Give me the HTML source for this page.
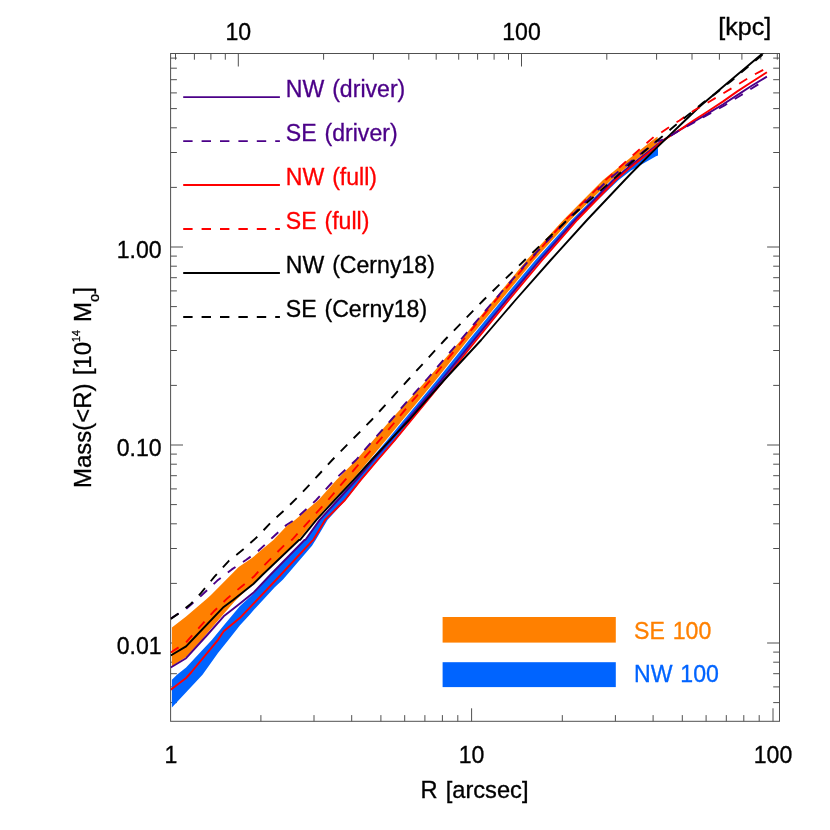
<!DOCTYPE html>
<html><head><meta charset="utf-8"><title>Mass profile</title>
<style>html,body{margin:0;padding:0;background:#fff;width:830px;height:830px;overflow:hidden}</style>
</head><body>
<svg width="830" height="830" viewBox="0 0 830 830" style="display:block;will-change:transform;font-family:'Liberation Sans',sans-serif;font-size:22px">
<rect width="830" height="830" fill="#fff"/>
<g stroke="#505050" stroke-width="1" fill="none">
<rect x="170.6" y="53.5" width="608.9" height="667.8"/>
<line x1="260.9" y1="721.3" x2="260.9" y2="715.0999999999999"/>
<line x1="314.0" y1="721.3" x2="314.0" y2="715.0999999999999"/>
<line x1="351.7" y1="721.3" x2="351.7" y2="715.0999999999999"/>
<line x1="380.9" y1="721.3" x2="380.9" y2="715.0999999999999"/>
<line x1="404.7" y1="721.3" x2="404.7" y2="715.0999999999999"/>
<line x1="424.9" y1="721.3" x2="424.9" y2="715.0999999999999"/>
<line x1="442.4" y1="721.3" x2="442.4" y2="715.0999999999999"/>
<line x1="457.8" y1="721.3" x2="457.8" y2="715.0999999999999"/>
<line x1="471.6" y1="721.3" x2="471.6" y2="708.3"/>
<line x1="562.3" y1="721.3" x2="562.3" y2="715.0999999999999"/>
<line x1="615.4" y1="721.3" x2="615.4" y2="715.0999999999999"/>
<line x1="653.1" y1="721.3" x2="653.1" y2="715.0999999999999"/>
<line x1="682.3" y1="721.3" x2="682.3" y2="715.0999999999999"/>
<line x1="706.1" y1="721.3" x2="706.1" y2="715.0999999999999"/>
<line x1="726.3" y1="721.3" x2="726.3" y2="715.0999999999999"/>
<line x1="743.8" y1="721.3" x2="743.8" y2="715.0999999999999"/>
<line x1="759.2" y1="721.3" x2="759.2" y2="715.0999999999999"/>
<line x1="773.0" y1="721.3" x2="773.0" y2="708.3"/>
<line x1="175.5" y1="53.5" x2="175.5" y2="59.7"/>
<line x1="194.4" y1="53.5" x2="194.4" y2="59.7"/>
<line x1="210.9" y1="53.5" x2="210.9" y2="59.7"/>
<line x1="225.3" y1="53.5" x2="225.3" y2="59.7"/>
<line x1="238.3" y1="53.5" x2="238.3" y2="66.5"/>
<line x1="323.6" y1="53.5" x2="323.6" y2="59.7"/>
<line x1="373.4" y1="53.5" x2="373.4" y2="59.7"/>
<line x1="408.8" y1="53.5" x2="408.8" y2="59.7"/>
<line x1="436.2" y1="53.5" x2="436.2" y2="59.7"/>
<line x1="458.7" y1="53.5" x2="458.7" y2="59.7"/>
<line x1="477.6" y1="53.5" x2="477.6" y2="59.7"/>
<line x1="494.1" y1="53.5" x2="494.1" y2="59.7"/>
<line x1="508.5" y1="53.5" x2="508.5" y2="59.7"/>
<line x1="521.5" y1="53.5" x2="521.5" y2="66.5"/>
<line x1="606.8" y1="53.5" x2="606.8" y2="59.7"/>
<line x1="656.6" y1="53.5" x2="656.6" y2="59.7"/>
<line x1="692.0" y1="53.5" x2="692.0" y2="59.7"/>
<line x1="719.4" y1="53.5" x2="719.4" y2="59.7"/>
<line x1="741.9" y1="53.5" x2="741.9" y2="59.7"/>
<line x1="760.8" y1="53.5" x2="760.8" y2="59.7"/>
<line x1="777.3" y1="53.5" x2="777.3" y2="59.7"/>
<line x1="170.6" y1="702.6" x2="176.9" y2="702.6"/>
<line x1="779.5" y1="702.6" x2="773.2" y2="702.6"/>
<line x1="170.6" y1="686.9" x2="176.9" y2="686.9"/>
<line x1="779.5" y1="686.9" x2="773.2" y2="686.9"/>
<line x1="170.6" y1="673.7" x2="176.9" y2="673.7"/>
<line x1="779.5" y1="673.7" x2="773.2" y2="673.7"/>
<line x1="170.6" y1="662.2" x2="176.9" y2="662.2"/>
<line x1="779.5" y1="662.2" x2="773.2" y2="662.2"/>
<line x1="170.6" y1="652.1" x2="176.9" y2="652.1"/>
<line x1="779.5" y1="652.1" x2="773.2" y2="652.1"/>
<line x1="170.6" y1="643.0" x2="183.0" y2="643.0"/>
<line x1="779.5" y1="643.0" x2="767.1" y2="643.0"/>
<line x1="170.6" y1="583.4" x2="176.9" y2="583.4"/>
<line x1="779.5" y1="583.4" x2="773.2" y2="583.4"/>
<line x1="170.6" y1="548.5" x2="176.9" y2="548.5"/>
<line x1="779.5" y1="548.5" x2="773.2" y2="548.5"/>
<line x1="170.6" y1="523.8" x2="176.9" y2="523.8"/>
<line x1="779.5" y1="523.8" x2="773.2" y2="523.8"/>
<line x1="170.6" y1="504.6" x2="176.9" y2="504.6"/>
<line x1="779.5" y1="504.6" x2="773.2" y2="504.6"/>
<line x1="170.6" y1="488.9" x2="176.9" y2="488.9"/>
<line x1="779.5" y1="488.9" x2="773.2" y2="488.9"/>
<line x1="170.6" y1="475.7" x2="176.9" y2="475.7"/>
<line x1="779.5" y1="475.7" x2="773.2" y2="475.7"/>
<line x1="170.6" y1="464.2" x2="176.9" y2="464.2"/>
<line x1="779.5" y1="464.2" x2="773.2" y2="464.2"/>
<line x1="170.6" y1="454.1" x2="176.9" y2="454.1"/>
<line x1="779.5" y1="454.1" x2="773.2" y2="454.1"/>
<line x1="170.6" y1="445.0" x2="183.0" y2="445.0"/>
<line x1="779.5" y1="445.0" x2="767.1" y2="445.0"/>
<line x1="170.6" y1="385.4" x2="176.9" y2="385.4"/>
<line x1="779.5" y1="385.4" x2="773.2" y2="385.4"/>
<line x1="170.6" y1="350.5" x2="176.9" y2="350.5"/>
<line x1="779.5" y1="350.5" x2="773.2" y2="350.5"/>
<line x1="170.6" y1="325.8" x2="176.9" y2="325.8"/>
<line x1="779.5" y1="325.8" x2="773.2" y2="325.8"/>
<line x1="170.6" y1="306.6" x2="176.9" y2="306.6"/>
<line x1="779.5" y1="306.6" x2="773.2" y2="306.6"/>
<line x1="170.6" y1="290.9" x2="176.9" y2="290.9"/>
<line x1="779.5" y1="290.9" x2="773.2" y2="290.9"/>
<line x1="170.6" y1="277.7" x2="176.9" y2="277.7"/>
<line x1="779.5" y1="277.7" x2="773.2" y2="277.7"/>
<line x1="170.6" y1="266.2" x2="176.9" y2="266.2"/>
<line x1="779.5" y1="266.2" x2="773.2" y2="266.2"/>
<line x1="170.6" y1="256.1" x2="176.9" y2="256.1"/>
<line x1="779.5" y1="256.1" x2="773.2" y2="256.1"/>
<line x1="170.6" y1="247.0" x2="183.0" y2="247.0"/>
<line x1="779.5" y1="247.0" x2="767.1" y2="247.0"/>
<line x1="170.6" y1="187.4" x2="176.9" y2="187.4"/>
<line x1="779.5" y1="187.4" x2="773.2" y2="187.4"/>
<line x1="170.6" y1="152.5" x2="176.9" y2="152.5"/>
<line x1="779.5" y1="152.5" x2="773.2" y2="152.5"/>
<line x1="170.6" y1="127.8" x2="176.9" y2="127.8"/>
<line x1="779.5" y1="127.8" x2="773.2" y2="127.8"/>
<line x1="170.6" y1="108.6" x2="176.9" y2="108.6"/>
<line x1="779.5" y1="108.6" x2="773.2" y2="108.6"/>
<line x1="170.6" y1="92.9" x2="176.9" y2="92.9"/>
<line x1="779.5" y1="92.9" x2="773.2" y2="92.9"/>
<line x1="170.6" y1="79.7" x2="176.9" y2="79.7"/>
<line x1="779.5" y1="79.7" x2="773.2" y2="79.7"/>
<line x1="170.6" y1="68.2" x2="176.9" y2="68.2"/>
<line x1="779.5" y1="68.2" x2="773.2" y2="68.2"/>
<line x1="170.6" y1="58.1" x2="176.9" y2="58.1"/>
<line x1="779.5" y1="58.1" x2="773.2" y2="58.1"/>
</g>
<defs><clipPath id="c"><rect x="170.6" y="53.5" width="608.9" height="667.8"/></clipPath></defs>
<g clip-path="url(#c)">
<polygon points="171.9,679.8 177.0,674.8 186.1,667.5 212.0,639.8 223.7,625.6 240.0,606.0 253.3,593.8 270.2,575.5 304.5,540.5 305.0,539.8 319.2,519.9 336.5,500.0 354.5,479.9 370.3,460.0 387.3,439.9 403.7,420.0 420.4,399.9 437.0,380.0 469.0,340.0 502.0,300.0 535.5,260.0 571.7,220.0 611.8,180.0 631.0,164.1 656.0,145.5 658.0,147.5 658.0,155.5 656.0,156.3 631.0,170.4 618.7,180.0 576.6,220.0 541.3,260.0 508.0,300.0 475.6,340.0 445.0,380.0 428.5,399.9 412.0,420.0 395.8,439.9 378.3,460.0 361.5,479.9 345.8,500.0 327.5,519.9 315.8,539.8 312.0,545.7 282.8,579.8 275.0,587.0 253.3,610.5 249.7,614.8 240.0,625.3 228.6,639.8 218.0,653.1 202.5,674.8 171.9,707.5" fill="#0064FF"/>
<polygon points="171.9,627.5 186.1,616.4 206.0,599.6 211.0,595.0 238.7,567.0 252.0,558.0 262.0,549.6 273.4,540.0 286.7,526.1 295.0,519.9 318.5,500.0 336.4,479.9 356.3,460.0 373.4,439.9 390.6,420.0 408.8,399.9 426.7,380.0 461.0,340.0 493.7,300.0 526.7,260.0 563.3,220.0 603.0,180.0 631.0,157.2 656.0,137.6 657.6,136.7 657.6,143.6 656.0,145.1 631.0,163.8 611.3,180.0 570.5,220.0 534.3,260.0 501.2,300.0 467.9,340.0 435.9,380.0 419.3,399.9 402.6,420.0 386.1,439.9 369.4,460.0 352.4,479.9 333.4,500.0 315.2,519.9 298.6,539.8 298.1,540.0 262.3,574.5 253.3,583.5 235.0,601.0 223.7,613.9 205.7,635.0 202.0,639.8 186.1,657.0 171.9,666.3" fill="#FF8000"/>
<polyline points="170.7,667.5 186.1,658.2 207.2,635.0 223.7,616.3 240.0,603.6 253.3,592.8 270.2,575.0 304.5,540.0 305.5,539.8 319.7,519.9 338.0,500.0 356.3,479.9 373.3,460.0 391.0,439.9 407.3,420.0 424.4,399.9 441.4,380.0 473.9,340.0 506.6,300.0 539.8,260.0 575.1,220.0 613.6,180.0 631.0,165.2 656.0,145.7 661.2,141.2 672.8,134.3 679.5,130.1 693.9,121.7 708.4,113.1 722.8,104.5 737.3,95.1 751.7,85.7 766.9,76.6" fill="none" stroke="#4B0088" stroke-width="1.9" stroke-linejoin="round"/>
<polyline points="170.7,689.8 186.1,678.0 191.5,672.0 218.0,639.8 223.7,631.3 240.0,617.8 253.3,603.9 275.0,581.0 312.0,541.2 313.4,539.8 325.1,519.9 345.0,500.0 360.8,479.9 377.7,460.0 395.0,439.9 411.4,420.0 427.8,399.9 444.2,380.0 476.4,340.0 508.9,300.0 542.3,260.0 577.2,220.0 615.8,180.0 631.0,166.9 656.0,146.9 661.2,141.9 672.8,134.3 679.5,130.1 693.9,120.3 708.4,111.0 722.8,101.6 737.3,91.4 751.7,82.0 766.9,72.2" fill="none" stroke="#FF0000" stroke-width="1.9" stroke-linejoin="round"/>
<polyline points="170.7,655.5 186.1,646.4 196.9,635.0 223.7,606.9 233.1,600.0 253.3,584.0 262.3,575.0 299.0,540.0 300.1,539.8 316.4,519.9 334.7,500.0 353.6,479.9 371.5,460.0 390.3,439.9 409.1,420.0 426.6,399.9 444.2,380.0 481.2,340.0 515.5,300.0 550.8,260.0 587.0,220.0 624.8,180.0 631.0,173.5 656.0,148.4 680.0,125.3 700.0,106.2 731.3,79.8 762.6,53.4 775.0,43.0" fill="none" stroke="#000000" stroke-width="1.9" stroke-linejoin="round"/>
<polyline points="170.7,652.5 186.1,642.5 189.1,638.9 201.4,625.1 213.9,611.3 227.8,597.9 241.0,586.9 253.9,576.6 262.0,567.5 289.5,540.0 292.0,539.8 310.1,519.9 328.1,500.0 345.2,479.9 362.5,460.0 379.8,439.9 396.6,420.0 413.3,399.9 430.7,380.0 463.3,340.0 495.9,300.0 530.5,260.0 565.6,220.0 605.5,180.1 631.0,156.9 656.0,135.0 661.2,132.6 672.8,124.6 679.5,120.5 693.9,110.5 708.4,102.2 722.8,93.6 737.3,84.9 751.7,76.0 766.2,68.2" fill="none" stroke="#FF0000" stroke-width="1.9" stroke-dasharray="9.4 9.0" stroke-linejoin="round"/>
<polyline points="170.7,618.5 186.1,608.9 201.1,595.8 207.4,590.0 217.3,580.6 231.8,569.4 246.3,559.8 257.8,551.4 272.3,537.7 286.7,524.7 294.5,519.9 316.3,500.0 334.4,479.9 356.0,460.0 373.3,439.9 391.1,420.0 408.4,399.9 426.3,380.0 460.5,340.0 494.6,300.0 529.4,260.0 567.2,220.0 608.0,180.0 631.0,161.4 656.0,141.7 665.0,139.2 680.0,130.1 700.0,119.1 712.0,112.4 725.0,105.1 741.0,95.2 757.0,85.1 760.4,83.1" fill="none" stroke="#4B0088" stroke-width="1.9" stroke-dasharray="9.4 9.0" stroke-linejoin="round"/>
<polyline points="170.8,618.9 178.0,613.9 191.0,603.7 201.1,592.9 214.5,576.7 228.9,560.8 243.4,549.3 257.8,536.3 272.3,521.1 286.7,508.1 301.2,493.6 318.9,474.5 332.2,460.0 371.6,420.0 408.0,380.0 444.7,340.0 483.6,300.0 524.8,260.0 567.4,220.0 612.6,180.0 631.0,163.0 656.0,141.4 660.7,137.8 674.2,126.2 688.7,114.5 703.3,102.6 715.0,94.0 731.3,80.9 762.6,54.5 775.0,44.1" fill="none" stroke="#000000" stroke-width="1.9" stroke-dasharray="9.4 9.0" stroke-linejoin="round"/>
</g>
<text transform="translate(238.3,40.3) scale(1.05,1.12)" text-anchor="middle" fill="#000" stroke="#000" stroke-width="0.3" word-spacing="1.4">10</text>
<text transform="translate(521.5,40.3) scale(1.05,1.12)" text-anchor="middle" fill="#000" stroke="#000" stroke-width="0.3" word-spacing="1.4">100</text>
<text transform="translate(718.3,35.3) scale(1.14,1.1)" text-anchor="start" fill="#000" stroke="#000" stroke-width="0.3" word-spacing="1.4">[kpc]</text>
<text transform="translate(171.0,762.7) scale(1.05,1.12)" text-anchor="middle" fill="#000" stroke="#000" stroke-width="0.3" word-spacing="1.4">1</text>
<text transform="translate(471.6,762.7) scale(1.05,1.12)" text-anchor="middle" fill="#000" stroke="#000" stroke-width="0.3" word-spacing="1.4">10</text>
<text transform="translate(773.0,762.7) scale(1.05,1.12)" text-anchor="middle" fill="#000" stroke="#000" stroke-width="0.3" word-spacing="1.4">100</text>
<text transform="translate(474.5,797.6) scale(1.075,1.12)" text-anchor="middle" fill="#000" stroke="#000" stroke-width="0.3" word-spacing="1.4">R [arcsec]</text>
<text transform="translate(161.7,258.2) scale(1.05,1.12)" text-anchor="end" fill="#000" stroke="#000" stroke-width="0.3" word-spacing="1.4">1.00</text>
<text transform="translate(161.7,456.2) scale(1.05,1.12)" text-anchor="end" fill="#000" stroke="#000" stroke-width="0.3" word-spacing="1.4">0.10</text>
<text transform="translate(161.7,654.2) scale(1.05,1.12)" text-anchor="end" fill="#000" stroke="#000" stroke-width="0.3" word-spacing="1.4">0.01</text>
<text transform="translate(91.3,387.6) rotate(-90) scale(1.09,1.05)" text-anchor="middle" fill="#000" stroke="#000" stroke-width="0.3" word-spacing="1.4">Mass(&lt;R) [10<tspan font-size="9.7" dy="-10.5">14</tspan><tspan dy="10.5"> M</tspan><tspan font-size="13.6" dy="7.5">o</tspan><tspan dy="-7.5">]</tspan></text>
<line x1="183.2" y1="97.15" x2="279.9" y2="97.15" stroke="#4B0088" stroke-width="1.9"/>
<text transform="translate(285.8,97.2) scale(1.05,1.12)" text-anchor="start" fill="#4B0088" stroke="#4B0088" stroke-width="0.3" word-spacing="1.4">NW (driver)</text>
<line x1="183.2" y1="141.11" x2="279.9" y2="141.11" stroke="#4B0088" stroke-width="1.9" stroke-dasharray="9.4 9.0"/>
<text transform="translate(285.8,141.2) scale(1.05,1.12)" text-anchor="start" fill="#4B0088" stroke="#4B0088" stroke-width="0.3" word-spacing="1.4">SE (driver)</text>
<line x1="183.2" y1="185.07" x2="279.9" y2="185.07" stroke="#FF0000" stroke-width="1.9"/>
<text transform="translate(285.8,185.2) scale(1.05,1.12)" text-anchor="start" fill="#FF0000" stroke="#FF0000" stroke-width="0.3" word-spacing="1.4">NW (full)</text>
<line x1="183.2" y1="229.03" x2="279.9" y2="229.03" stroke="#FF0000" stroke-width="1.9" stroke-dasharray="9.4 9.0"/>
<text transform="translate(285.8,229.1) scale(1.05,1.12)" text-anchor="start" fill="#FF0000" stroke="#FF0000" stroke-width="0.3" word-spacing="1.4">SE (full)</text>
<line x1="183.2" y1="272.99" x2="279.9" y2="272.99" stroke="#000000" stroke-width="1.9"/>
<text transform="translate(285.8,273.1) scale(1.05,1.12)" text-anchor="start" fill="#000000" stroke="#000000" stroke-width="0.3" word-spacing="1.4">NW (Cerny18)</text>
<line x1="183.2" y1="316.95" x2="279.9" y2="316.95" stroke="#000000" stroke-width="1.9" stroke-dasharray="9.4 9.0"/>
<text transform="translate(285.8,317.1) scale(1.05,1.12)" text-anchor="start" fill="#000000" stroke="#000000" stroke-width="0.3" word-spacing="1.4">SE (Cerny18)</text>
<rect x="442.6" y="617" width="173.2" height="25.6" fill="#FF8000"/>
<rect x="442.6" y="662.2" width="173.2" height="24.9" fill="#0064FF"/>
<text transform="translate(634.0,638.6) scale(1.05,1.12)" text-anchor="start" fill="#FF8000" stroke="#FF8000" stroke-width="0.3" word-spacing="1.4">SE 100</text>
<text transform="translate(634.0,682.2) scale(1.05,1.12)" text-anchor="start" fill="#0064FF" stroke="#0064FF" stroke-width="0.3" word-spacing="1.4">NW 100</text>
</svg>
</body></html>
